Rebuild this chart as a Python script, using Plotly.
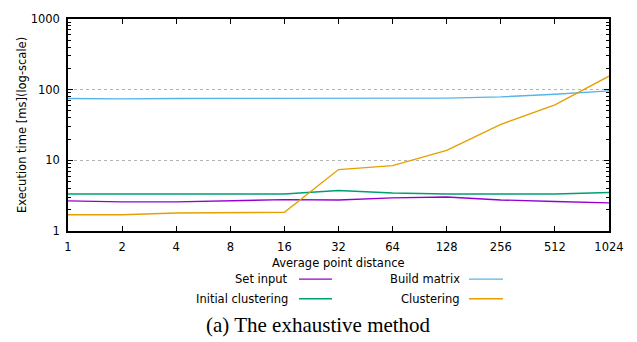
import plotly.graph_objects as go

distance = [1, 2, 4, 8, 16, 32, 64, 128, 256, 512, 1024]
tick_labels = ["1", "2", "4", "8", "16", "32", "64", "128", "256", "512", "1024"]

set_input = [2.67, 2.58, 2.58, 2.65, 2.78, 2.75, 2.94, 3.03, 2.75, 2.61, 2.50]
build_matrix = [75, 74, 75, 75, 75.5, 76, 76, 76, 79, 86, 96]
initial_clustering = [3.34, 3.34, 3.34, 3.34, 3.34, 3.75, 3.45, 3.34, 3.34, 3.34, 3.5]
clustering = [1.70, 1.70, 1.80, 1.80, 1.84, 7.4, 8.4, 13.8, 32.3, 61, 155]

series = [
    ("Set input", set_input, "#9400d3"),
    ("Build matrix", build_matrix, "#56b4e9"),
    ("Initial clustering", initial_clustering, "#009e73"),
    ("Clustering", clustering, "#e69f00"),
]

font = "DejaVu Sans"
fs = 11.5
fig = go.Figure()
for name, vals, col in series:
    fig.add_trace(go.Scatter(x=distance, y=vals, mode="lines", name=name,
                             line=dict(color=col, width=1.4), showlegend=False))

W, H = 637, 342
L, R, T, B = 68, 28, 15, 111
pw, ph = W - L - R, H - T - B

def px(x):
    return (x - L) / pw

def py(y):
    return (H - B - y) / ph

# manual gnuplot-style legend: text right-aligned, sample to the right
legend_pos = [(290, 280, 299, 332), (462, 280, 469, 503), (290, 300, 299, 332), (462, 300, 469, 503)]
annotations = []
shapes = []
for (name, vals, col), (tx, ty, lx0, lx1) in zip(series, legend_pos):
    annotations.append(dict(text=name, x=px(tx), y=py(ty), xref="paper", yref="paper",
                            xanchor="right", yanchor="middle", showarrow=False,
                            font=dict(family=font, size=fs, color="black")))
    shapes.append(dict(type="line", xref="paper", yref="paper",
                       x0=px(lx0), x1=px(lx1), y0=py(ty), y1=py(ty),
                       line=dict(color=col, width=1.4)))

annotations.append(dict(text="Average point distance", x=0.5, y=py(264), xref="paper", yref="paper",
                        xanchor="center", yanchor="middle", showarrow=False,
                        font=dict(family=font, size=fs, color="black")))
annotations.append(dict(text="Execution time [ms](log-scale)", x=px(22), y=0.5, xref="paper", yref="paper",
                        xanchor="center", yanchor="middle", showarrow=False, textangle=-90,
                        font=dict(family=font, size=fs, color="black")))
annotations.append(dict(text="(a) The exhaustive method", x=px(318), y=py(327), xref="paper", yref="paper",
                        xanchor="center", yanchor="middle", showarrow=False,
                        font=dict(family="Liberation Serif", size=21, color="black")))

fig.update_layout(
    width=W, height=H,
    margin=dict(l=L, r=R, t=T, b=B),
    paper_bgcolor="white", plot_bgcolor="white",
    font=dict(family=font, size=fs, color="black"),
    annotations=annotations, shapes=shapes,
    xaxis=dict(type="log", range=[0, 3.0103], tickvals=distance, ticktext=tick_labels,
               ticks="inside", ticklen=5, tickcolor="black", showline=True, linecolor="black",
               linewidth=1.5, mirror="allticks", showgrid=False, zeroline=False,
               ticklabelstandoff=4, tickfont=dict(family=font, size=fs)),
    yaxis=dict(type="log", range=[0, 3], tickvals=[1, 10, 100, 1000], ticktext=["1", "10", "100", "1000"],
               ticks="inside", ticklen=5, tickcolor="black", showline=True, linecolor="black",
               linewidth=1.5, mirror="allticks", showgrid=True, gridcolor="#b4b4b4",
               griddash="dot", gridwidth=1.2, zeroline=False, ticklabelstandoff=4,
               tickfont=dict(family=font, size=fs),
               minor=dict(ticks="inside", ticklen=3, tickcolor="black", dtick="D1", showgrid=False)),
)

fig.write_html("out.html")
